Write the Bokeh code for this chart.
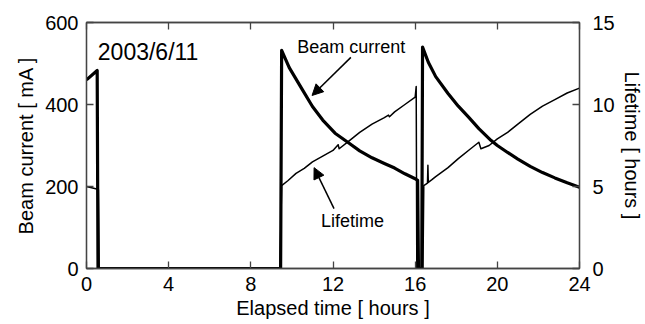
from bokeh.plotting import figure
from bokeh.models import (Range1d, LinearAxis, FixedTicker, Label, Arrow, NormalHead,
                          CustomLabelingPolicy)
from bokeh.embed import file_html
from bokeh.resources import INLINE

# ---- data ----
beam_t = [0.0, 0.52, 0.56, 9.45, 9.5, 9.87, 10.5, 11.0, 11.5, 12.1, 12.77, 13.3, 13.9, 14.5, 15.0,
          15.5, 16.0, 16.12, 16.16, 16.32, 16.36, 16.64, 17.0, 17.6, 18.1, 18.6, 19.1, 19.7, 20.0, 20.5,
          21.0, 21.6, 22.2, 22.8, 23.4, 24.0]
beam_ma = [460, 483, 0, 0, 532, 490, 437, 395, 362, 330, 306, 287, 270, 256, 245,
           231, 219, 215, 0, 0, 540, 503, 468, 427, 396, 369, 341, 312, 300, 283,
           267, 249, 234, 221, 209, 198]

life_t = [0.0, 0.5, 0.58, 0.62, 9.42, 9.5, 9.8, 10.2, 10.6, 11.0, 11.5, 12.0, 12.25, 12.3, 12.8,
          13.3, 13.9, 14.5, 14.7, 14.75, 15.0, 15.5, 16.0, 16.05, 16.08, 16.38, 16.42, 16.6, 16.62, 16.64,
          16.8, 17.0, 17.6, 18.1, 18.7, 19.1, 19.2, 19.6, 20.0, 20.5, 21.0, 21.6, 22.2, 22.8, 23.4, 24.0]
life_h = [5.0, 4.85, 4.8, 0, 0, 5.05, 5.35, 5.8, 6.1, 6.5, 6.85, 7.2, 7.55, 7.3, 7.8,
          8.3, 8.8, 9.2, 9.35, 9.25, 9.55, 10.0, 10.45, 11.1, 0, 0, 5.05, 5.2, 6.3, 5.25,
          5.4, 5.6, 6.15, 6.7, 7.3, 7.7, 7.3, 7.5, 7.9, 8.3, 8.8, 9.4, 9.9, 10.3, 10.7, 11.0]

x_ticks = [0, 4, 8, 12, 16, 20, 24]
left_ticks = [0, 200, 400, 600]
right_ticks = [0, 5, 10, 15]

date_text = "2003/6/11"
# annotation anchors (x in hours, y in mA)
date_pos = (0.55, 527)
beam_label_pos = (10.26, 541)
beam_arrow = (12.87, 515, 10.98, 422)
life_label_pos = (11.42, 115)
life_arrow = (12.05, 146, 11.08, 246)

FONT = "Liberation Sans"
AXC = "#444444"

p = figure(width=645, height=324, x_range=Range1d(0, 24), y_range=Range1d(0, 600),
           output_backend="svg", toolbar_location=None,
           min_border_left=86, min_border_right=63, min_border_top=22, min_border_bottom=56)
p.extra_y_ranges = {"life": Range1d(0, 15)}
p.grid.visible = False
p.outline_line_color = AXC
p.outline_line_width = 1.3
p.background_fill_color = "white"
p.border_fill_color = "white"

p.line(beam_t, beam_ma, line_color="black", line_width=3.2, line_join="round")
p.line(life_t, life_h, y_range_name="life", line_color="black", line_width=1.5, line_join="round")

def style(ax, ticks, size="20px"):
    ax.ticker = FixedTicker(ticks=ticks)
    ax.minor_tick_line_color = None
    ax.major_tick_in = 7
    ax.major_tick_out = 0
    ax.major_tick_line_color = AXC
    ax.major_tick_line_width = 1.3
    ax.axis_line_color = AXC
    ax.axis_line_width = 1.3
    ax.major_label_text_font = FONT
    ax.major_label_text_font_size = size
    ax.major_label_text_color = "black"
    ax.axis_label_text_font = FONT
    ax.axis_label_text_font_size = "20px"
    ax.axis_label_text_font_style = "normal"
    ax.axis_label_text_color = "black"

xa = p.xaxis[0]
style(xa, x_ticks)
xa.axis_label = "Elapsed time [ hours ]"
xa.major_label_standoff = 8
xa.axis_label_standoff = 3

ya = p.yaxis[0]
style(ya, left_ticks)
ya.axis_label = "Beam current [ mA ]"
ya.major_label_standoff = 8
ya.axis_label_standoff = 5

ra = LinearAxis(y_range_name="life")
style(ra, right_ticks)
ra.axis_label = "Lifetime [ hours ]"
ra.major_label_standoff = 13
ra.axis_label_standoff = 3
p.add_layout(ra, "right")

ta = LinearAxis()
style(ta, x_ticks, size="1px")
ta.major_label_standoff = 0
ta.major_label_policy = CustomLabelingPolicy(code="return new Set()")
p.add_layout(ta, "above")

p.add_layout(Label(x=date_pos[0], y=date_pos[1], text=date_text, text_font=FONT, text_font_size="23px",
                   text_baseline="middle", text_align="left", text_color="black"))
p.add_layout(Label(x=beam_label_pos[0], y=beam_label_pos[1], text="Beam current", text_font=FONT,
                   text_font_size="18px", text_baseline="middle", text_align="left", text_color="black"))
p.add_layout(Label(x=life_label_pos[0], y=life_label_pos[1], text="Lifetime", text_font=FONT,
                   text_font_size="18px", text_baseline="middle", text_align="left", text_color="black"))

for (xs, ys, xe, ye) in (beam_arrow, life_arrow):
    p.add_layout(Arrow(x_start=xs, y_start=ys, x_end=xe, y_end=ye, line_width=1.5, line_color="black",
                       end=NormalHead(size=11, fill_color="black", line_color="black")))

open("out.html", "w").write(file_html(p, INLINE))
